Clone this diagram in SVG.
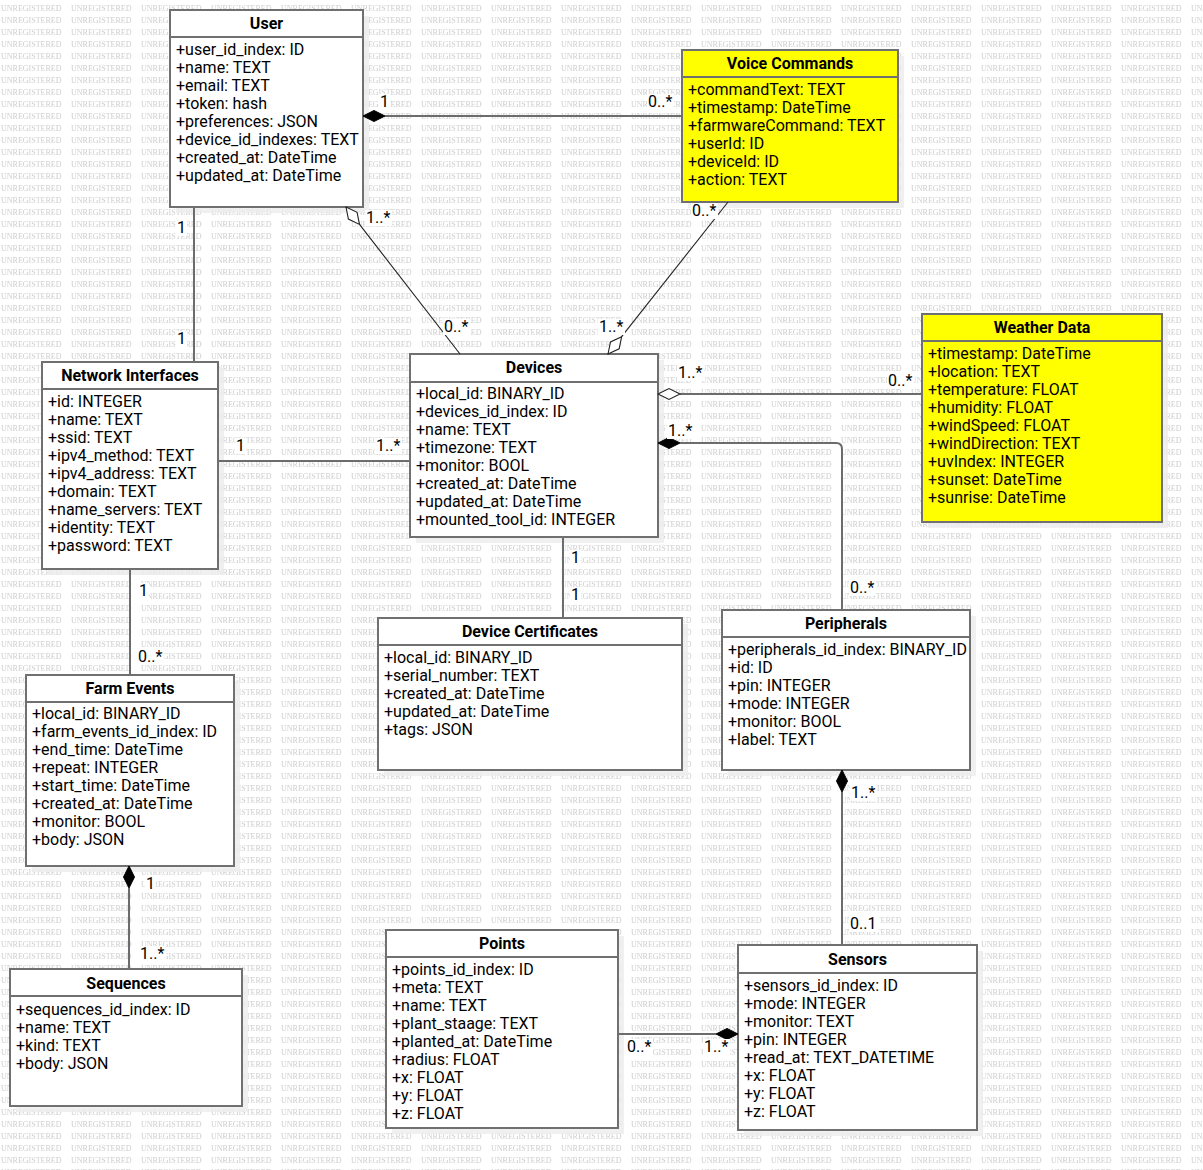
<svg xmlns="http://www.w3.org/2000/svg" xmlns:xlink="http://www.w3.org/1999/xlink" width="1203" height="1170" viewBox="0 0 1203 1170">
  <style>
    text { font-family: Roboto, "Liberation Sans", sans-serif; font-size: 16px; fill: #000; }
    .title { font-weight: bold; text-anchor: middle; }
    .box { fill: #fff; stroke: #707070; stroke-width: 2; }
    .box.yellow { fill: #ffff00; }
    .sep { stroke: #707070; stroke-width: 2; }
    .shadow { fill: #ececec; fill-opacity: 0.8; }
    .line { fill: none; stroke: #6c6c6c; stroke-width: 2; }
    .diag { fill: none; stroke: #222; stroke-width: 1.1; }
    .filled { fill: #000; stroke: #000; stroke-width: 1; }
    .open { fill: #fff; stroke: #222; stroke-width: 1.1; }
    .lblbg { fill: #fff; }
    .wm { font-family: "Liberation Serif", serif; font-size: 8px; fill: #cfcfcf; }
  </style>
  <defs>
    <pattern id="wmark" x="0" y="0" width="70" height="12" patternUnits="userSpaceOnUse">
      <rect width="70" height="12" fill="#fff"/>
      <text class="wm" x="1" y="11">UNREGISTERED</text>
    </pattern>
    <path id="dia" d="M0,0 L11,-5.5 L22,0 L11,5.5 Z"/>
  </defs>

  <!-- background -->
  <rect width="1203" height="1170" fill="url(#wmark)"/>

  <!-- classes -->
  <g id="user">
    <rect class="shadow" x="176" y="16" width="193" height="197"/>
    <rect class="box" x="170" y="10" width="193" height="197"/>
    <line class="sep" x1="170" y1="37" x2="363" y2="37"/>
    <text class="title" x="266.5" y="29">User</text>
    <text x="176" y="55">
      <tspan x="176">+user_id_index: ID</tspan>
      <tspan x="176" dy="18">+name: TEXT</tspan>
      <tspan x="176" dy="18">+email: TEXT</tspan>
      <tspan x="176" dy="18">+token: hash</tspan>
      <tspan x="176" dy="18">+preferences: JSON</tspan>
      <tspan x="176" dy="18">+device_id_indexes: TEXT</tspan>
      <tspan x="176" dy="18">+created_at: DateTime</tspan>
      <tspan x="176" dy="18">+updated_at: DateTime</tspan>
    </text>
  </g>

  <g id="voice-commands">
    <rect class="shadow" x="688" y="56" width="216" height="152"/>
    <rect class="box yellow" x="682" y="50" width="216" height="152"/>
    <line class="sep" x1="682" y1="77" x2="898" y2="77"/>
    <text class="title" x="790" y="69">Voice Commands</text>
    <text x="688" y="95">
      <tspan x="688">+commandText: TEXT</tspan>
      <tspan x="688" dy="18">+timestamp: DateTime</tspan>
      <tspan x="688" dy="18">+farmwareCommand: TEXT</tspan>
      <tspan x="688" dy="18">+userId: ID</tspan>
      <tspan x="688" dy="18">+deviceId: ID</tspan>
      <tspan x="688" dy="18">+action: TEXT</tspan>
    </text>
  </g>

  <g id="weather-data">
    <rect class="shadow" x="928" y="320" width="240" height="208"/>
    <rect class="box yellow" x="922" y="314" width="240" height="208"/>
    <line class="sep" x1="922" y1="341" x2="1162" y2="341"/>
    <text class="title" x="1042" y="333">Weather Data</text>
    <text x="928" y="359">
      <tspan x="928">+timestamp: DateTime</tspan>
      <tspan x="928" dy="18">+location: TEXT</tspan>
      <tspan x="928" dy="18">+temperature: FLOAT</tspan>
      <tspan x="928" dy="18">+humidity: FLOAT</tspan>
      <tspan x="928" dy="18">+windSpeed: FLOAT</tspan>
      <tspan x="928" dy="18">+windDirection: TEXT</tspan>
      <tspan x="928" dy="18">+uvIndex: INTEGER</tspan>
      <tspan x="928" dy="18">+sunset: DateTime</tspan>
      <tspan x="928" dy="18">+sunrise: DateTime</tspan>
    </text>
  </g>

  <g id="devices">
    <rect class="shadow" x="416" y="360" width="248" height="183"/>
    <rect class="box" x="410" y="354" width="248" height="183"/>
    <line class="sep" x1="410" y1="382" x2="658" y2="382"/>
    <text class="title" x="534" y="373">Devices</text>
    <text x="416" y="399">
      <tspan x="416">+local_id: BINARY_ID</tspan>
      <tspan x="416" dy="18">+devices_id_index: ID</tspan>
      <tspan x="416" dy="18">+name: TEXT</tspan>
      <tspan x="416" dy="18">+timezone: TEXT</tspan>
      <tspan x="416" dy="18">+monitor: BOOL</tspan>
      <tspan x="416" dy="18">+created_at: DateTime</tspan>
      <tspan x="416" dy="18">+updated_at: DateTime</tspan>
      <tspan x="416" dy="18">+mounted_tool_id: INTEGER</tspan>
    </text>
  </g>

  <g id="network-interfaces">
    <rect class="shadow" x="48" y="368" width="176" height="207"/>
    <rect class="box" x="42" y="362" width="176" height="207"/>
    <line class="sep" x1="42" y1="389" x2="218" y2="389"/>
    <text class="title" x="130" y="381">Network Interfaces</text>
    <text x="48" y="407">
      <tspan x="48">+id: INTEGER</tspan>
      <tspan x="48" dy="18">+name: TEXT</tspan>
      <tspan x="48" dy="18">+ssid: TEXT</tspan>
      <tspan x="48" dy="18">+ipv4_method: TEXT</tspan>
      <tspan x="48" dy="18">+ipv4_address: TEXT</tspan>
      <tspan x="48" dy="18">+domain: TEXT</tspan>
      <tspan x="48" dy="18">+name_servers: TEXT</tspan>
      <tspan x="48" dy="18">+identity: TEXT</tspan>
      <tspan x="48" dy="18">+password: TEXT</tspan>
    </text>
  </g>

  <g id="device-certificates">
    <rect class="shadow" x="384" y="624" width="304" height="152"/>
    <rect class="box" x="378" y="618" width="304" height="152"/>
    <line class="sep" x1="378" y1="645" x2="682" y2="645"/>
    <text class="title" x="530" y="637">Device Certificates</text>
    <text x="384" y="663">
      <tspan x="384">+local_id: BINARY_ID</tspan>
      <tspan x="384" dy="18">+serial_number: TEXT</tspan>
      <tspan x="384" dy="18">+created_at: DateTime</tspan>
      <tspan x="384" dy="18">+updated_at: DateTime</tspan>
      <tspan x="384" dy="18">+tags: JSON</tspan>
    </text>
  </g>

  <g id="peripherals">
    <rect class="shadow" x="728" y="616" width="248" height="160"/>
    <rect class="box" x="722" y="610" width="248" height="160"/>
    <line class="sep" x1="722" y1="637" x2="970" y2="637"/>
    <text class="title" x="846" y="629">Peripherals</text>
    <text x="728" y="655">
      <tspan x="728">+peripherals_id_index: BINARY_ID</tspan>
      <tspan x="728" dy="18">+id: ID</tspan>
      <tspan x="728" dy="18">+pin: INTEGER</tspan>
      <tspan x="728" dy="18">+mode: INTEGER</tspan>
      <tspan x="728" dy="18">+monitor: BOOL</tspan>
      <tspan x="728" dy="18">+label: TEXT</tspan>
    </text>
  </g>

  <g id="farm-events">
    <rect class="shadow" x="32" y="681" width="208" height="191"/>
    <rect class="box" x="26" y="675" width="208" height="191"/>
    <line class="sep" x1="26" y1="702" x2="234" y2="702"/>
    <text class="title" x="130" y="694">Farm Events</text>
    <text x="32" y="719">
      <tspan x="32">+local_id: BINARY_ID</tspan>
      <tspan x="32" dy="18">+farm_events_id_index: ID</tspan>
      <tspan x="32" dy="18">+end_time: DateTime</tspan>
      <tspan x="32" dy="18">+repeat: INTEGER</tspan>
      <tspan x="32" dy="18">+start_time: DateTime</tspan>
      <tspan x="32" dy="18">+created_at: DateTime</tspan>
      <tspan x="32" dy="18">+monitor: BOOL</tspan>
      <tspan x="32" dy="18">+body: JSON</tspan>
    </text>
  </g>

  <g id="sequences">
    <rect class="shadow" x="16" y="975" width="232" height="137"/>
    <rect class="box" x="10" y="969" width="232" height="137"/>
    <line class="sep" x1="10" y1="996" x2="242" y2="996"/>
    <text class="title" x="126" y="989">Sequences</text>
    <text x="16" y="1015">
      <tspan x="16">+sequences_id_index: ID</tspan>
      <tspan x="16" dy="18">+name: TEXT</tspan>
      <tspan x="16" dy="18">+kind: TEXT</tspan>
      <tspan x="16" dy="18">+body: JSON</tspan>
    </text>
  </g>

  <g id="points">
    <rect class="shadow" x="392" y="936" width="232" height="198"/>
    <rect class="box" x="386" y="930" width="232" height="198"/>
    <line class="sep" x1="386" y1="957" x2="618" y2="957"/>
    <text class="title" x="502" y="949">Points</text>
    <text x="392" y="975">
      <tspan x="392">+points_id_index: ID</tspan>
      <tspan x="392" dy="18">+meta: TEXT</tspan>
      <tspan x="392" dy="18">+name: TEXT</tspan>
      <tspan x="392" dy="18">+plant_staage: TEXT</tspan>
      <tspan x="392" dy="18">+planted_at: DateTime</tspan>
      <tspan x="392" dy="18">+radius: FLOAT</tspan>
      <tspan x="392" dy="18">+x: FLOAT</tspan>
      <tspan x="392" dy="18">+y: FLOAT</tspan>
      <tspan x="392" dy="18">+z: FLOAT</tspan>
    </text>
  </g>

  <g id="sensors">
    <rect class="shadow" x="744" y="951" width="239" height="185"/>
    <rect class="box" x="738" y="945" width="239" height="185"/>
    <line class="sep" x1="738" y1="973" x2="977" y2="973"/>
    <text class="title" x="857.5" y="965">Sensors</text>
    <text x="744" y="991">
      <tspan x="744">+sensors_id_index: ID</tspan>
      <tspan x="744" dy="18">+mode: INTEGER</tspan>
      <tspan x="744" dy="18">+monitor: TEXT</tspan>
      <tspan x="744" dy="18">+pin: INTEGER</tspan>
      <tspan x="744" dy="18">+read_at: TEXT_DATETIME</tspan>
      <tspan x="744" dy="18">+x: FLOAT</tspan>
      <tspan x="744" dy="18">+y: FLOAT</tspan>
      <tspan x="744" dy="18">+z: FLOAT</tspan>
    </text>
  </g>

  <!-- connectors (drawn over the node shadows) -->
  <g id="connectors">
    <!-- User - Voice Commands -->
    <line class="line" x1="385" y1="116" x2="682" y2="116"/>
    <use href="#dia" class="filled" transform="translate(363,116)"/>
    <!-- User - Network Interfaces -->
    <line class="line" x1="194" y1="208" x2="194" y2="361"/>
    <!-- User - Devices -->
    <line class="diag" x1="359.5" y1="224.4" x2="460" y2="354"/>
    <use href="#dia" class="open" transform="translate(346,207) rotate(52.2)"/>
    <!-- Voice Commands - Devices -->
    <line class="diag" x1="621.6" y1="336.7" x2="728" y2="202"/>
    <use href="#dia" class="open" transform="translate(608,354) rotate(-51.7)"/>
    <!-- Devices - Weather Data -->
    <line class="line" x1="680" y1="394" x2="921" y2="394"/>
    <use href="#dia" class="open" transform="translate(658,394)"/>
    <!-- Devices - Peripherals -->
    <path class="line" d="M680,443 H836 Q842,443 842,449 V609"/>
    <use href="#dia" class="filled" transform="translate(658,443)"/>
    <!-- Network Interfaces - Devices -->
    <line class="line" x1="219" y1="461" x2="409" y2="461"/>
    <!-- Devices - Device Certificates -->
    <line class="line" x1="563" y1="538" x2="563" y2="617"/>
    <!-- Network Interfaces - Farm Events -->
    <line class="line" x1="130" y1="570" x2="130" y2="674"/>
    <!-- Farm Events - Sequences -->
    <line class="line" x1="129" y1="888" x2="129" y2="968"/>
    <use href="#dia" class="filled" transform="translate(129,866) rotate(90)"/>
    <!-- Peripherals - Sensors -->
    <line class="line" x1="842" y1="792" x2="842" y2="944"/>
    <use href="#dia" class="filled" transform="translate(842,770) rotate(90)"/>
    <!-- Points - Sensors -->
    <line class="line" x1="619" y1="1034" x2="716" y2="1034"/>
    <use href="#dia" class="filled" transform="translate(738,1034) rotate(180)"/>

    <!-- multiplicity labels -->
    <g>
      <rect class="lblbg" x="379" y="94" width="11" height="16"/>
      <text x="380" y="107">1</text>
      <rect class="lblbg" x="647" y="94" width="27" height="16"/>
      <text x="648" y="107">0..*</text>
      <rect class="lblbg" x="176" y="220" width="11" height="16"/>
      <text x="177" y="233">1</text>
      <rect class="lblbg" x="176" y="331" width="11" height="16"/>
      <text x="177" y="344">1</text>
      <rect class="lblbg" x="365" y="210" width="27" height="16"/>
      <text x="366" y="223">1..*</text>
      <rect class="lblbg" x="443" y="319" width="27" height="16"/>
      <text x="444" y="332">0..*</text>
      <rect class="lblbg" x="691" y="203" width="27" height="16"/>
      <text x="692" y="216">0..*</text>
      <rect class="lblbg" x="598" y="319" width="27" height="16"/>
      <text x="599" y="332">1..*</text>
      <rect class="lblbg" x="677" y="365" width="27" height="16"/>
      <text x="678" y="378">1..*</text>
      <rect class="lblbg" x="887" y="373" width="27" height="16"/>
      <text x="888" y="386">0..*</text>
      <rect class="lblbg" x="667" y="423" width="27" height="16"/>
      <text x="668" y="436">1..*</text>
      <rect class="lblbg" x="849" y="580" width="27" height="16"/>
      <text x="850" y="593">0..*</text>
      <rect class="lblbg" x="235" y="438" width="11" height="16"/>
      <text x="236" y="451">1</text>
      <rect class="lblbg" x="375" y="438" width="27" height="16"/>
      <text x="376" y="451">1..*</text>
      <rect class="lblbg" x="570" y="550" width="11" height="16"/>
      <text x="571" y="563">1</text>
      <rect class="lblbg" x="570" y="587" width="11" height="16"/>
      <text x="571" y="600">1</text>
      <rect class="lblbg" x="138" y="583" width="11" height="16"/>
      <text x="139" y="596">1</text>
      <rect class="lblbg" x="137" y="649" width="27" height="16"/>
      <text x="138" y="662">0..*</text>
      <rect class="lblbg" x="145" y="876" width="11" height="16"/>
      <text x="146" y="889">1</text>
      <rect class="lblbg" x="139" y="946" width="27" height="16"/>
      <text x="140" y="959">1..*</text>
      <rect class="lblbg" x="850" y="785" width="27" height="16"/>
      <text x="851" y="798">1..*</text>
      <rect class="lblbg" x="849" y="916" width="30" height="16"/>
      <text x="850" y="929">0..1</text>
      <rect class="lblbg" x="626" y="1039" width="27" height="16"/>
      <text x="627" y="1052">0..*</text>
      <rect class="lblbg" x="703" y="1039" width="27" height="16"/>
      <text x="704" y="1052">1..*</text>
    </g>
  </g>
</svg>
